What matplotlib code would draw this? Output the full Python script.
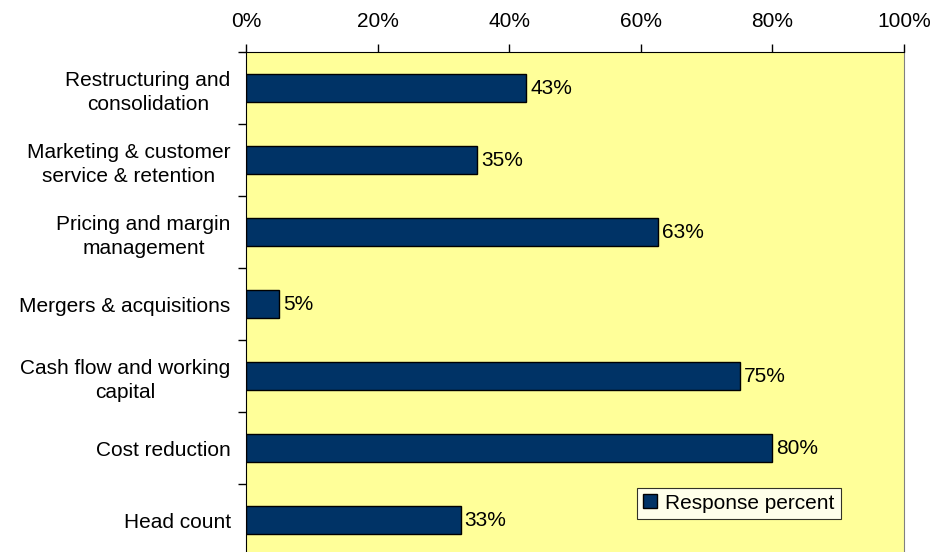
import matplotlib.pyplot as plt
import numpy as np

plt.rcParams['font.family'] = ['Liberation Sans', 'DejaVu Sans']

# Données
categories = [
    "Restructuring and\nconsolidation",
    "Marketing & customer\nservice & retention",
    "Pricing and margin\nmanagement",
    "Mergers & acquisitions",
    "Cash flow and working\ncapital",
    "Cost reduction",
    "Head count",
]
response_percent = [42.6, 35.1, 62.6, 5.0, 75.0, 80.0, 32.6]
x_ticks = [0, 20, 40, 60, 80, 100]

FS = 15

fig = plt.figure(figsize=(9.34, 5.52), dpi=100)
ax = fig.add_axes([246 / 934, -4 / 552, 658 / 934, 504 / 552])
ax.set_facecolor('#FFFF99')

y = np.arange(len(categories))
ax.barh(y, response_percent, height=0.39, color='#003366',
        edgecolor='black', linewidth=1, label='Response percent')

for yi, v in zip(y, response_percent):
    ax.text(v + 0.6, yi, f"{v:.0f}%", va='center', ha='left', fontsize=FS)

ax.set_xlim(0, 100)
ax.set_ylim(len(categories) - 0.5, -0.5)

# axe x en haut
ax.xaxis.tick_top()
ax.set_xticks(x_ticks)
ax.set_xticklabels([f"{t}%" for t in x_ticks], fontsize=FS)
ax.tick_params(axis='x', direction='out', length=6, width=1, pad=9)

# axe y : traits entre catégories, étiquettes au centre
ax.set_yticks(np.arange(-0.5, len(categories), 1))
ax.set_yticklabels([])
ax.tick_params(axis='y', which='major', direction='out', length=6, width=1)
ax.set_yticks(y, minor=True)
ax.set_yticklabels(categories, minor=True, fontsize=FS, linespacing=1.35)
ax.tick_params(axis='y', which='minor', length=0, pad=11)
for lab in ax.get_yticklabels(minor=True):
    lab.set_multialignment('center')

ax.spines['top'].set_color('black')
ax.spines['left'].set_color('black')
ax.spines['right'].set_color('#808080')
ax.spines['bottom'].set_visible(False)

leg = ax.legend(loc='lower left', bbox_to_anchor=(391 / 658, 37 / 504),
                fontsize=FS, frameon=True, fancybox=False, borderpad=0.3,
                handlelength=0.65, handleheight=0.65, handletextpad=0.4,
                borderaxespad=0)
leg.get_frame().set_edgecolor('black')
leg.get_frame().set_linewidth(0.8)
leg.get_frame().set_facecolor('white')

fig.savefig('out.png', dpi=100)
